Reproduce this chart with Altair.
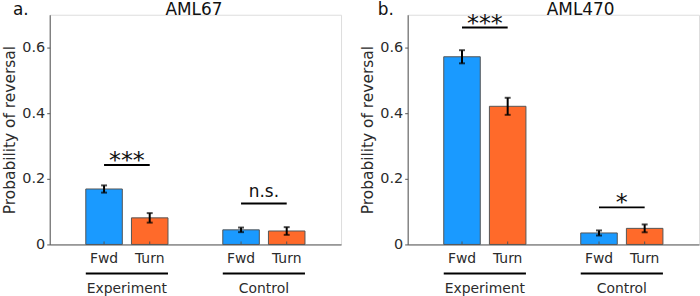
import altair as alt
import pandas as pd

# ---- data ----
positions = [1, 2, 4, 5]
conditions = ["Fwd", "Turn", "Fwd", "Turn"]
groups = ["Experiment", "Experiment", "Control", "Control"]

aml67_mean = [0.169, 0.081, 0.0445, 0.041]
aml67_err = [0.011, 0.0145, 0.007, 0.0117]
aml470_mean = [0.572, 0.421, 0.035, 0.049]
aml470_err = [0.020, 0.026, 0.0077, 0.012]

group_names = ["Experiment", "Control"]
group_start = [0.6, 3.6]
group_end = [2.4, 5.4]

sig_x1 = [1, 4]
sig_x2 = [2, 5]
aml67_sig = ["***", "n.s."]
aml67_sig_y = [0.242, 0.125]
aml470_sig = ["***", "*"]
aml470_sig_y = [0.661, 0.113]

y_ticks = [0, 0.2, 0.4, 0.6]

# ---- style ----
W, H = 293, 231
XDOM = [-0.19, 6.19]
BLUE = "#1A9AFF"
ORANGE = "#FF6A2A"
FONT = "DejaVu Sans"
TXT = "#2b2b2b"
AX = "#555555"


def panel(title, letter, mean, err, sig, sig_y, title_dx, letter_dx):
    df = pd.DataFrame({"pos": positions, "cond": conditions, "group": groups,
                       "mean": mean, "err": err})
    df["lo"] = df["mean"] - df["err"]
    df["hi"] = df["mean"] + df["err"]
    df["x0"] = df["pos"] - 0.4
    df["x1"] = df["pos"] + 0.4

    xs = alt.Scale(domain=XDOM, nice=False, zero=False)
    ys = alt.Scale(domain=[0, 0.7], nice=False)

    base = alt.Chart(df)

    bars = base.mark_rect(stroke="#555555", strokeWidth=1).encode(
        x=alt.X("x0:Q", scale=xs,
                axis=alt.Axis(labels=False, ticks=False, title=None, grid=False,
                              domainColor=AX, domainWidth=1)),
        x2="x1:Q",
        y=alt.Y("mean:Q", scale=ys,
                axis=alt.Axis(values=y_ticks, grid=False, title="Probability of reversal",
                              labelExpr="datum.value == 0 ? '0' : format(datum.value, '.1f')",
                              labelFont=FONT, labelFontSize=14.5, labelColor=TXT,
                              labelPadding=2, tickSize=3, tickColor=AX,
                              domainColor=AX, titleFont=FONT, titleFontSize=15.5,
                              titleFontWeight="normal", titleColor=TXT, titlePadding=4)),
        y2=alt.datum(0),
        color=alt.Color("cond:N", scale=alt.Scale(domain=["Fwd", "Turn"], range=[BLUE, ORANGE]),
                        legend=None),
    )

    xtick = base.mark_rule(color=AX, strokeWidth=1).encode(
        x=alt.X("pos:Q", scale=xs), y=alt.value(H), y2=alt.value(H - 3))

    ebar = base.mark_rule(color="black", strokeWidth=2).encode(
        x=alt.X("pos:Q", scale=xs), y=alt.Y("lo:Q", scale=ys), y2="hi:Q")
    cap_lo = base.mark_tick(orient="horizontal", size=6, thickness=2, color="black").encode(
        x=alt.X("pos:Q", scale=xs), y=alt.Y("lo:Q", scale=ys))
    cap_hi = base.mark_tick(orient="horizontal", size=6, thickness=2, color="black").encode(
        x=alt.X("pos:Q", scale=xs), y=alt.Y("hi:Q", scale=ys))

    cat_lab = base.mark_text(font=FONT, fontSize=14, color=TXT, baseline="middle").encode(
        x=alt.X("pos:Q", scale=xs), y=alt.value(H + 14.3), text="cond:N")

    gdf = pd.DataFrame({"name": group_names, "start": group_start, "end": group_end})
    gdf["mid"] = (gdf["start"] + gdf["end"]) / 2
    gbase = alt.Chart(gdf)
    g_rule = gbase.mark_rule(color="black", strokeWidth=2).encode(
        x=alt.X("start:Q", scale=xs), x2="end:Q", y=alt.value(H + 29.3))
    g_lab = gbase.mark_text(font=FONT, fontSize=14, color=TXT, baseline="middle").encode(
        x=alt.X("mid:Q", scale=xs), y=alt.value(H + 44.5), text="name:N")

    sdf = pd.DataFrame({"x1": sig_x1, "x2": sig_x2, "y": sig_y, "label": sig})
    sdf["mid"] = (sdf["x1"] + sdf["x2"]) / 2
    sbase = alt.Chart(sdf)
    s_rule = sbase.mark_rule(color="black", strokeWidth=2).encode(
        x=alt.X("x1:Q", scale=xs), x2="x2:Q", y=alt.Y("y:Q", scale=ys))
    s_star = sbase.transform_filter("datum.label != 'n.s.'").mark_text(
        font=FONT, fontSize=24, color="#111111", baseline="alphabetic", dy=3).encode(
        x=alt.X("mid:Q", scale=xs), y=alt.Y("y:Q", scale=ys), text="label:N")
    s_ns = sbase.transform_filter("datum.label == 'n.s.'").mark_text(
        font=FONT, fontSize=17, color="#111111", baseline="alphabetic", dy=-6).encode(
        x=alt.X("mid:Q", scale=xs), y=alt.Y("y:Q", scale=ys), text="label:N")

    tdf = pd.DataFrame({"t": [title], "l": [letter]})
    tbase = alt.Chart(tdf)
    t_title = tbase.mark_text(font=FONT, fontSize=17, color="#111111", baseline="alphabetic",
                              align="center").encode(
        x=alt.value(W / 2 + title_dx), y=alt.value(0), text="t:N")
    t_letter = tbase.mark_text(font=FONT, fontSize=17, color="#111111", baseline="alphabetic",
                               align="left").encode(
        x=alt.value(letter_dx), y=alt.value(0), text="l:N")

    return alt.layer(bars, xtick, ebar, cap_lo, cap_hi, cat_lab, g_rule, g_lab,
                     s_rule, s_star, s_ns, t_title, t_letter).properties(width=W, height=H)


left = panel("AML67", "a.", aml67_mean, aml67_err, aml67_sig, aml67_sig_y, -1.5, -37)
right = panel("AML470", "b.", aml470_mean, aml470_err, aml470_sig, aml470_sig_y, 27.5, -30)

chart = alt.hconcat(left, right, spacing=67, bounds="flush").properties(
    padding={"left": 2, "top": -1, "right": 0, "bottom": 0}
).configure_view(stroke=None).configure(background="white")

chart.save("out.html", embed_options={"renderer": "svg", "actions": False})
